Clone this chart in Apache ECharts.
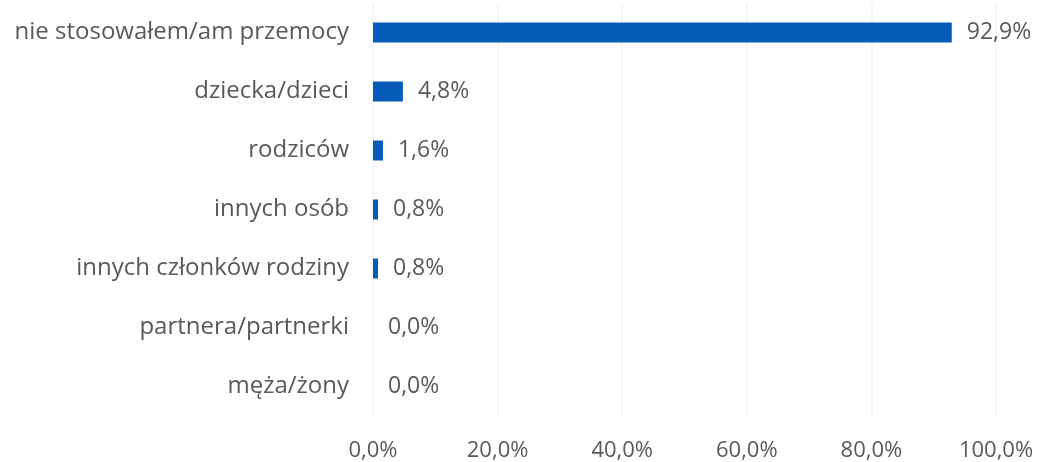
<!DOCTYPE html>
<html>
<head>
<meta charset="utf-8">
<script src="https://cdn.jsdelivr.net/npm/echarts@6/dist/echarts.min.js"></script>
<style>
  html, body { margin: 0; padding: 0; background: #fff; }
  #chart { width: 1040px; height: 462px; }
</style>
</head>
<body>
<div id="chart"></div>
<script>
// categories listed bottom -> top (category axis on y draws first item at bottom)
const categories = ['męża/żony', 'partnera/partnerki', 'innych członków rodziny', 'innych osób', 'rodziców', 'dziecka/dzieci', 'nie stosowałem/am przemocy']
const values = [0.0, 0.0, 0.8, 0.8, 1.6, 4.8, 92.9]
const xTicks = [0, 20, 40, 60, 80, 100]

const fmt = v => v.toFixed(1).replace('.', ',') + '%'

const chart = echarts.init(document.getElementById('chart'))
const option = {
  animation: false,
  textStyle: { fontFamily: 'Open Sans' },
  grid: { left: 373, right: 44, top: 3, height: 414 },
  xAxis: {
    type: 'value',
    min: xTicks[0],
    max: xTicks[xTicks.length - 1],
    interval: 20,
    axisLine: { show: false },
    axisTick: { show: false },
    splitLine: { lineStyle: { color: '#f6f6f6', width: 2 } },
    axisLabel: {
      color: '#595959',
      fontSize: 22,
      margin: 24,
      formatter: v => fmt(v)
    }
  },
  yAxis: {
    type: 'category',
    data: categories,
    axisLine: { show: false },
    axisTick: { show: false },
    axisLabel: { color: '#595959', fontSize: 24, margin: 24 }
  },
  series: [
    {
      type: 'bar',
      data: values,
      barWidth: 20,
      itemStyle: { color: '#065bb9' },
      label: {
        show: true,
        position: 'right',
        distance: 15,
        color: '#595959',
        fontSize: 23,
        formatter: p => fmt(p.value)
      }
    }
  ]
}
chart.setOption(option, true)
</script>
</body>
</html>
